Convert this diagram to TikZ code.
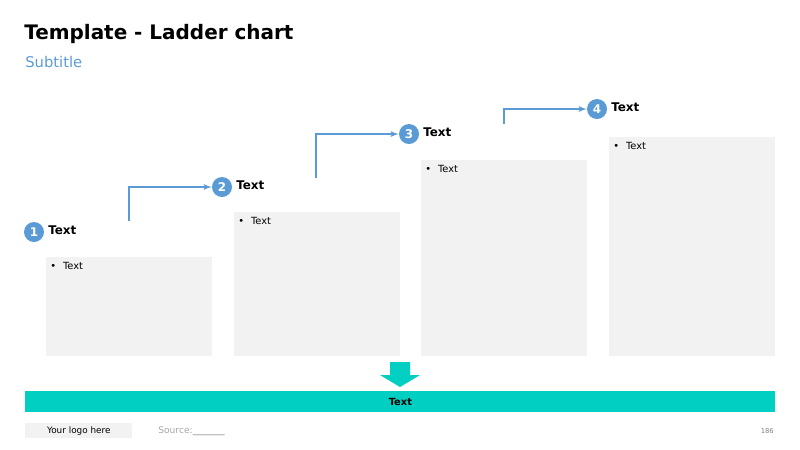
\documentclass[tikz,border=0pt]{standalone}
\usepackage{fontspec}
\setmainfont{DejaVu Sans}
\usepackage{xcolor}
\usetikzlibrary{positioning,shapes,arrows}

\definecolor{stepblue}{HTML}{5B9BD5}
\definecolor{barteal}{HTML}{00CFC1}
\definecolor{boxgray}{HTML}{F2F2F2}
\definecolor{notegray}{HTML}{A6A6A6}

\begin{document}
\begin{tikzpicture}[
    x=0.025cm, y=-0.025cm,
    stepbox/.style={rectangle, fill=boxgray, minimum width=4.15cm, anchor=north west, inner sep=0pt},
    num/.style={circle, fill=stepblue, text=white, font=\bfseries\fontsize{8.5}{9}\selectfont, minimum size=0.5cm, inner sep=0pt},
    steplabel/.style={anchor=west, inner sep=0pt, font=\bfseries\fontsize{8.5}{10}\selectfont},
    bullet/.style={anchor=north west, inner sep=0pt, font=\fontsize{7}{8}\selectfont},
    line/.style={draw, -latex', stepblue, line width=1pt}
]
\useasboundingbox (0,0) rectangle (800,449);

% Title
\node[anchor=west, inner sep=0pt, font=\bfseries\fontsize{14.2}{17}\selectfont] (title) at (24,34) {Template - Ladder chart};
\node[anchor=west, inner sep=0pt, text=stepblue, font=\fontsize{10.5}{12}\selectfont] (subtitle) at (25,62) {Subtitle};

% Boxes
\node[stepbox, minimum height=2.475cm] (box1) at (46,257) {};
\node[stepbox, minimum height=3.6cm] (box2) at (234,212) {};
\node[stepbox, minimum height=4.9cm] (box3) at (421,160) {};
\node[stepbox, minimum height=5.475cm] (box4) at (609,137) {};

\node[bullet] (b1) at (50,262) {\textbullet\hspace{5pt}Text};
\node[bullet] (b2) at (238,217) {\textbullet\hspace{5pt}Text};
\node[bullet] (b3) at (425,165) {\textbullet\hspace{5pt}Text};
\node[bullet] (b4) at (613,142) {\textbullet\hspace{5pt}Text};

% Steps
\node[num] (n1) at (34,232) {1};
\node[num] (n2) at (222,187) {2};
\node[num] (n3) at (409,134) {3};
\node[num] (n4) at (597,109) {4};

\node[steplabel] (t1) at (48,230) {Text};
\node[steplabel] (t2) at (236,185) {Text};
\node[steplabel] (t3) at (423,132) {Text};
\node[steplabel] (t4) at (611,107) {Text};

% Paths
\coordinate (s1) at (129,221);
\coordinate (s2) at (316,178);
\coordinate (s3) at (504,124);
\draw[line] (s1) |- (n2);
\draw[line] (s2) |- (n3);
\draw[line] (s3) |- (n4);

% Result
\fill[barteal] (390,362) -- (410,362) -- (410,375) -- (420,375) -- (400,387) -- (380,375) -- (390,375) -- cycle;
\node[rectangle, fill=barteal, anchor=north west, minimum width=18.75cm, minimum height=0.525cm, inner sep=0pt, font=\bfseries\fontsize{7}{8}\selectfont] (result) at (25,391) {Text};

% Footer
\node[rectangle, fill=boxgray, anchor=north west, minimum width=2.675cm, minimum height=0.375cm, inner sep=0pt, font=\fontsize{6.3}{7}\selectfont] (logo) at (25,423) {Your logo here};
\node[anchor=west, inner sep=0pt, text=notegray, font=\fontsize{6.5}{7}\selectfont] (source) at (158,431) {Source:\textcolor{gray}{\_\_\_\_\_\_\_}};
\node[anchor=east, inner sep=0pt, text=gray, font=\fontsize{4.8}{6}\selectfont] (page) at (774,431) {186};

\end{tikzpicture}
\end{document}
